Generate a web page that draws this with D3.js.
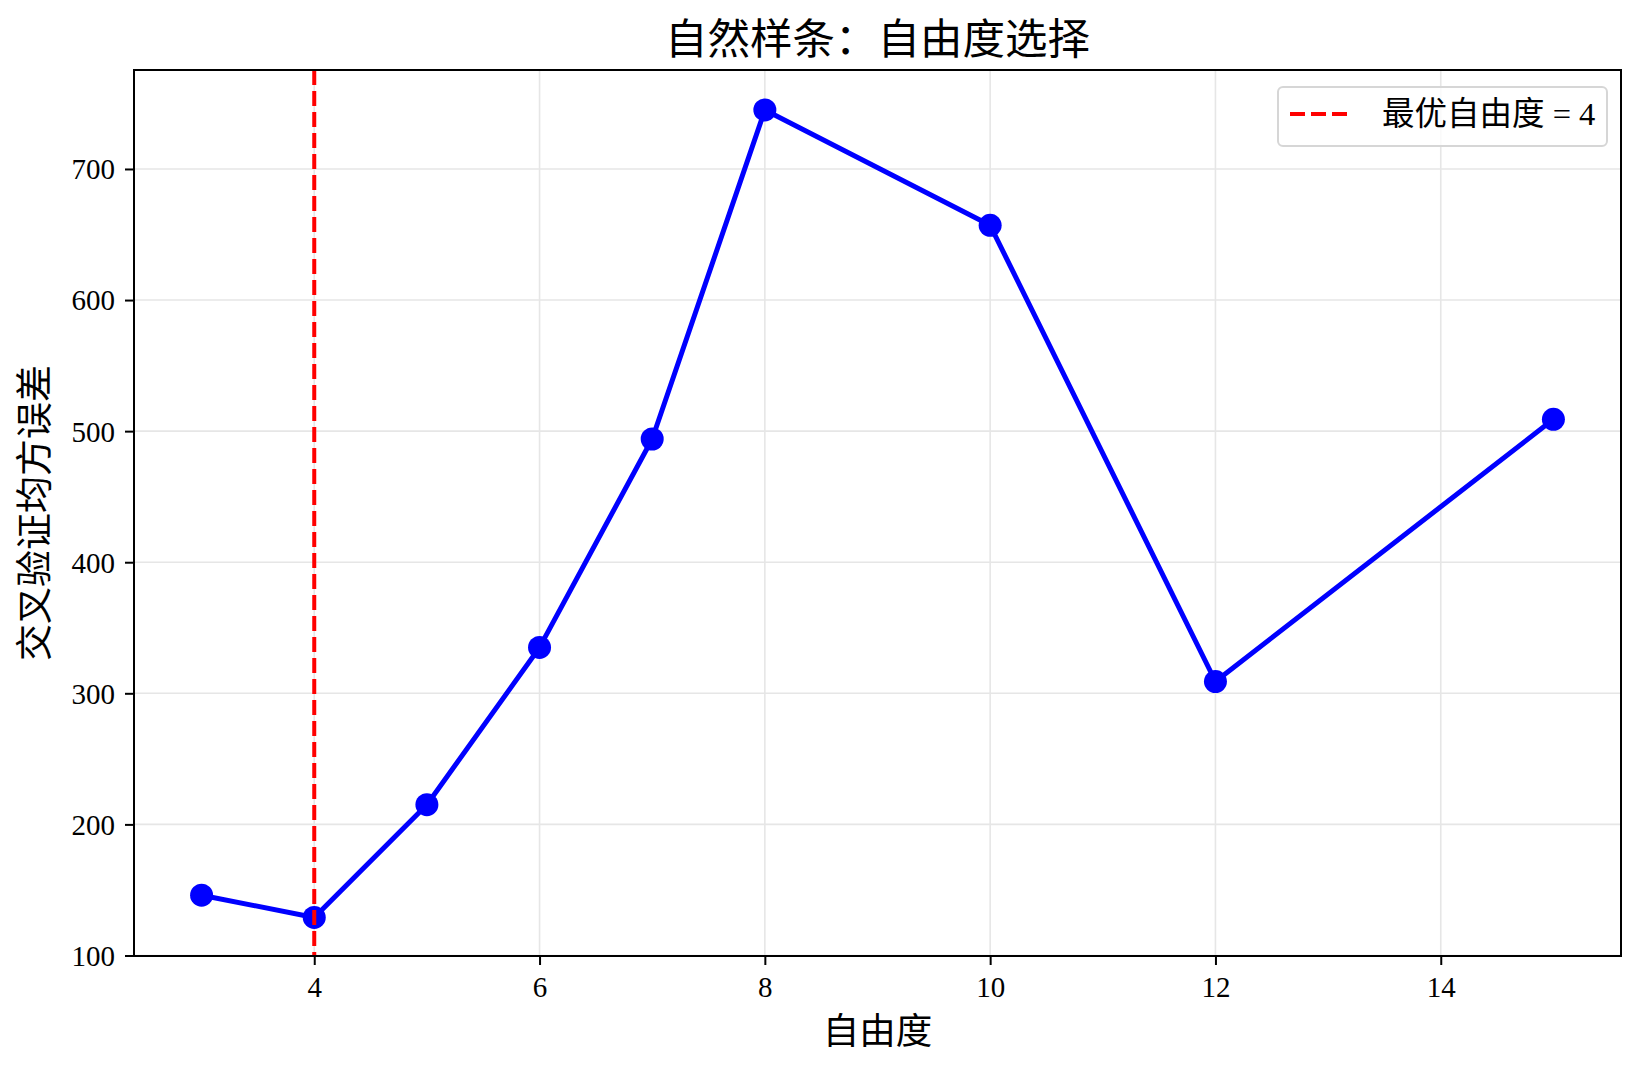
<!DOCTYPE html>
<html>
<head>
<meta charset="utf-8">
<script src="https://cdn.jsdelivr.net/npm/d3@7"></script>
<style>
  body { margin: 0; background: #fff; }
  svg { display: block; }
  text { font-family: "Liberation Serif", "Noto Sans CJK SC", serif; fill: #000; }
</style>
</head>
<body>
<div id="chart"></div>
<script>
// degrees of freedom tried and their CV mean squared error
const dofValues = [3, 4, 5, 6, 7, 8, 10, 12, 15];
const cvMse = [146, 129, 215, 335, 494, 745, 657, 309, 509];
const bestDof = 4;
const xTicks = [4, 6, 8, 10, 12, 14];
const yTicks = [100, 200, 300, 400, 500, 600, 700];
const titleText = '自然样条：自由度选择';
const xLabel = '自由度';
const yLabel = '交叉验证均方误差';
const legendLabel = `最优自由度 = ${bestDof}`;

const dim = { width: 1640, height: 1074, left: 134, right: 1621, top: 70, bottom: 956 };

const x = d3.scaleLinear()
    .domain([2.4, 15.6])
    .range([dim.left, dim.right]);

const y = d3.scaleLinear()
    .domain([99.6, 775.5])
    .range([dim.bottom, dim.top]);

const svg = d3.select('#chart')
    .append('svg')
        .attr('width', dim.width)
        .attr('height', dim.height);

// grid
const grid = svg.append('g').attr('class', 'grid');
grid.selectAll('.gx')
    .data(xTicks)
    .enter()
    .append('line')
        .attr('x1', d => x(d)).attr('x2', d => x(d))
        .attr('y1', dim.top).attr('y2', dim.bottom)
        .attr('stroke', '#e6e6e6')
        .attr('stroke-width', 1.6);
grid.selectAll('.gy')
    .data(yTicks)
    .enter()
    .append('line')
        .attr('x1', dim.left).attr('x2', dim.right)
        .attr('y1', d => y(d)).attr('y2', d => y(d))
        .attr('stroke', '#e6e6e6')
        .attr('stroke-width', 1.6);

const points = dofValues.map((d, i) => ({ dof: d, mse: cvMse[i] }));

// curve + markers
svg.append('path')
    .datum(points)
    .attr('fill', 'none')
    .attr('stroke', '#0000ff')
    .attr('stroke-width', 5)
    .attr('stroke-linejoin', 'round')
    .attr('d', d3.line()
        .x(d => x(d.dof))
        .y(d => y(d.mse))
    );

svg.selectAll('.dot')
    .data(points)
    .enter()
    .append('circle')
        .attr('cx', d => x(d.dof))
        .attr('cy', d => y(d.mse))
        .attr('r', 11.5)
        .attr('fill', '#0000ff');

// best dof marker line
svg.append('line')
    .attr('x1', x(bestDof)).attr('x2', x(bestDof))
    .attr('y1', dim.top).attr('y2', dim.bottom)
    .attr('stroke', '#ff0000')
    .attr('stroke-width', 4)
    .attr('stroke-dasharray', '15,6');

// axes
const xAxis = svg.append('g')
    .attr('transform', `translate(0, ${dim.bottom})`)
    .call(d3.axisBottom(x).tickValues(xTicks).tickSize(9).tickPadding(11).tickFormat(d3.format('d')));

const yAxis = svg.append('g')
    .attr('transform', `translate(${dim.left}, 0)`)
    .call(d3.axisLeft(y).tickValues(yTicks).tickSize(9).tickPadding(10).tickFormat(d3.format('d')));

[xAxis, yAxis].forEach(a => {
    a.select('.domain').remove();
    a.selectAll('line').attr('stroke', '#000').attr('stroke-width', 2);
    a.selectAll('text')
        .attr('font-family', '"Liberation Serif", serif')
        .attr('font-size', '29px')
        .attr('fill', '#000');
});
yAxis.selectAll('text').attr('dy', '0.34em');

// frame
svg.append('rect')
    .attr('x', dim.left).attr('y', dim.top)
    .attr('width', dim.right - dim.left)
    .attr('height', dim.bottom - dim.top)
    .attr('fill', 'none')
    .attr('stroke', '#000')
    .attr('stroke-width', 2);

// titles
svg.append('text')
    .attr('x', (dim.left + dim.right) / 2)
    .attr('y', 54)
    .attr('text-anchor', 'middle')
    .attr('font-size', '42.5px')
    .text(titleText);

svg.append('text')
    .attr('x', (dim.left + dim.right) / 2)
    .attr('y', 1044)
    .attr('text-anchor', 'middle')
    .attr('font-size', '36.5px')
    .text(xLabel);

svg.append('text')
    .attr('transform', `translate(48, ${(dim.top + dim.bottom) / 2}) rotate(-90)`)
    .attr('text-anchor', 'middle')
    .attr('font-size', '37px')
    .text(yLabel);

// legend
const legend = svg.append('g').attr('transform', 'translate(1278, 87)');
legend.append('rect')
    .attr('width', 329).attr('height', 59)
    .attr('rx', 5)
    .attr('fill', 'rgba(255,255,255,0.8)')
    .attr('stroke', '#d6d6d6')
    .attr('stroke-width', 2);
legend.append('line')
    .attr('x1', 12).attr('x2', 75)
    .attr('y1', 27).attr('y2', 27)
    .attr('stroke', '#ff0000')
    .attr('stroke-width', 4)
    .attr('stroke-dasharray', '15,6');
legend.append('text')
    .attr('x', 104)
    .attr('y', 38)
    .attr('font-size', '32.5px')
    .text(legendLabel);
</script>
</body>
</html>
